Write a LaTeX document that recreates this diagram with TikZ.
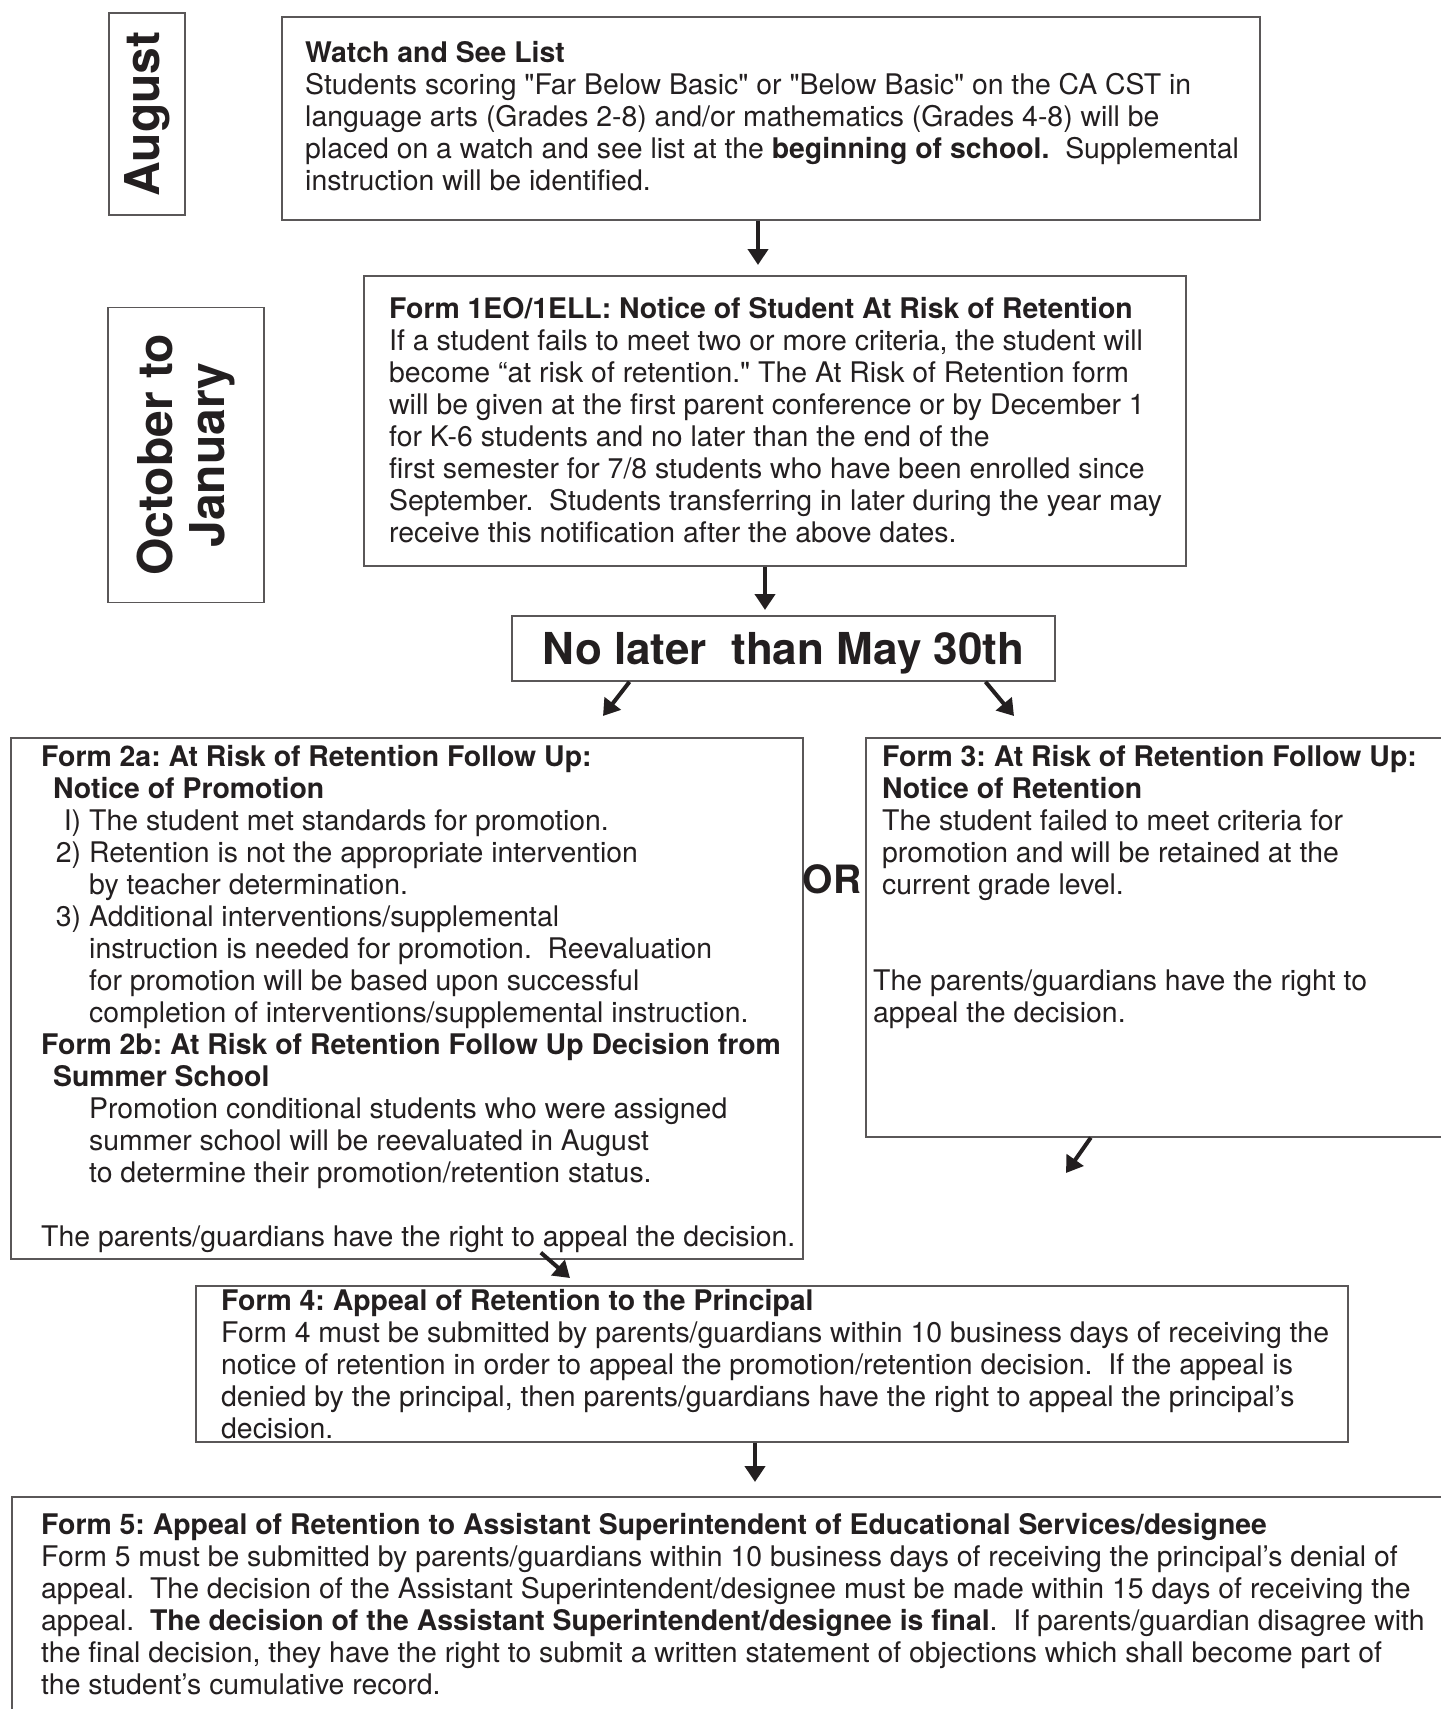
\documentclass[tikz,border=0pt]{standalone}
\usepackage{fontspec}
\setmainfont{TeX Gyre Heros}
\usetikzlibrary{arrows.meta}
\definecolor{ink}{RGB}{35,31,32}
\newcommand{\numitem}[1]{\makebox[40pt][r]{#1}\hspace*{8pt}}
\newcommand{\contline}{\hspace*{48pt}}
\newcommand{\dq}{\textquotedbl}
\frenchspacing

\begin{document}
\begin{tikzpicture}[x=1pt, y=-1pt,
	box/.style={draw=ink!75, line width=1.6pt, inner sep=0pt, anchor=north west},
	txt/.style={anchor=north west, inner sep=0pt, align=left, text=ink, font=\fontsize{28.4}{32}\selectfont, execute at begin node=\strut},
	side/.style={draw=ink!75, line width=1.6pt, rotate=90, inner sep=0pt, align=center, text=ink, font=\bfseries\fontsize{48}{52}\selectfont},
	arr/.style={ink, line width=4pt, -{Triangle[length=16pt,width=20pt]}}]
	
	\useasboundingbox (0,0) rectangle (1441,1709);
	\clip (0,0) rectangle (1441,1709);
	
	\node [side, minimum width=202pt, minimum height=76pt] (aug) at (147,114) {August};
	
	\node [side, minimum width=295pt, minimum height=156pt] (oct) at (186,455) {October to\\January};
	
	\node [box, minimum width=978pt, minimum height=203pt] (watch) at (281,16) {};
	\node [txt] (watchtxt) at (305,41) {\textbf{Watch and See List}\\
		Students scoring \dq Far Below Basic\dq{} or \dq Below Basic\dq{} on the CA CST in\\
		language arts (Grades 2-8) and/or mathematics (Grades 4-8) will be\\
		placed on a watch and see list at the \textbf{beginning of school.}\ \ Supplemental\\
		instruction will be identified.};
	
	\node [box, minimum width=822pt, minimum height=290pt] (form1) at (363,275) {};
	\node [txt] (form1txt) at (389,297) {\textbf{Form 1EO/1ELL: Notice of Student At Risk of Retention}\\
		If a student fails to meet two or more criteria, the student will\\
		become “at risk of retention.\dq{} The At Risk of Retention form\\
		will be given at the first parent conference or by December 1\\
		for K-6 students and no later than the end of the\\
		first semester for 7/8 students who have been enrolled since\\
		September.\ \ Students transferring in later during the year may\\
		receive this notification after the above dates.};
	
	\node [box, anchor=center, minimum width=543pt, minimum height=65pt, text depth=0pt, text=ink, font=\bfseries\fontsize{44}{48}\selectfont] (nolater) at (783.5,648.5) {No later\ \ than May 30th};
	
	\node [box, minimum width=792pt, minimum height=521pt] (form2) at (10,737) {};
	\node [txt] (form2txt) at (41,745) {\textbf{Form 2a: At Risk of Retention Follow Up:}\\
		\hspace*{12pt}\textbf{Notice of Promotion}\\
		\numitem{I)}The student met standards for promotion.\\
		\numitem{2)}Retention is not the appropriate intervention\\
		\contline by teacher determination.\\
		\numitem{3)}Additional interventions/supplemental\\
		\contline instruction is needed for promotion.\ \ Reevaluation\\
		\contline for promotion will be based upon successful\\
		\contline completion of interventions/supplemental instruction.\\
		\textbf{Form 2b: At Risk of Retention Follow Up Decision from}\\
		\hspace*{12pt}\textbf{Summer School}\\
		\contline Promotion conditional students who were assigned\\
		\contline summer school will be reevaluated in August\\
		\contline to determine their promotion/retention status.\\[32pt]
		The parents/guardians have the right to appeal the decision.};
	
	\node [text=ink, font=\bfseries\fontsize{39}{44}\selectfont] (or) at (832,879) {OR};
	
	\node [box, minimum width=600pt, minimum height=399pt] (form3) at (865,737) {};
	\node [txt] (form3txt) at (873,745) {\hspace*{9pt}\textbf{Form 3: At Risk of Retention Follow Up:}\\
		\hspace*{9pt}\textbf{Notice of Retention}\\
		\hspace*{9pt}The student failed to meet criteria for\\
		\hspace*{9pt}promotion and will be retained at the\\
		\hspace*{9pt}current grade level.\\[64pt]
		The parents/guardians have the right to\\
		appeal the decision.};
	
	\node [box, minimum width=1152pt, minimum height=156pt] (form4) at (195,1285) {};
	\node [txt] (form4txt) at (221,1289) {\textbf{Form 4: Appeal of Retention to the Principal}\\
		Form 4 must be submitted by parents/guardians within 10 business days of receiving the\\
		notice of retention in order to appeal the promotion/retention decision.\ \ If the appeal is\\
		denied by the principal, then parents/guardians have the right to appeal the principal’s\\
		decision.};
	
	\node [box, minimum width=1454pt, minimum height=260pt] (form5) at (11,1496) {};
	\node [txt] (form5txt) at (41,1513) {\textbf{Form 5: Appeal of Retention to Assistant Superintendent of Educational Services/designee}\\
		Form 5 must be submitted by parents/guardians within 10 business days of receiving the principal’s denial of\\
		appeal.\ \ The decision of the Assistant Superintendent/designee must be made within 15 days of receiving the\\
		appeal.\ \ \textbf{The decision of the Assistant Superintendent/designee is final}.\ \ If parents/guardian disagree with\\
		the final decision, they have the right to submit a written statement of objections which shall become part of\\
		the student’s cumulative record.};
	
	\coordinate (t1) at (758,265);
	\coordinate (t2) at (765,610);
	\coordinate (t3) at (603,716);
	\coordinate (t4) at (1014,716);
	\coordinate (t5) at (570,1278);
	\coordinate (t6) at (1066,1173);
	\coordinate (t7) at (755,1482);
	
	\draw [arr] (t1 |- watch.south) -- (t1);
	\draw [arr] (t2 |- form1.south) -- (t2);
	\draw [arr] ([xshift=-154pt]nolater.south) -- (t3);
	\draw [arr] ([xshift=202pt]nolater.south) -- (t4);
	\draw [arr] ([xshift=134pt,yshift=7pt]form2.south) -- (t5);
	\draw [arr] ([xshift=-75pt]form3.south) -- (t6);
	\draw [arr] (t7 |- form4.south) -- (t7);
	
\end{tikzpicture}
\end{document}
